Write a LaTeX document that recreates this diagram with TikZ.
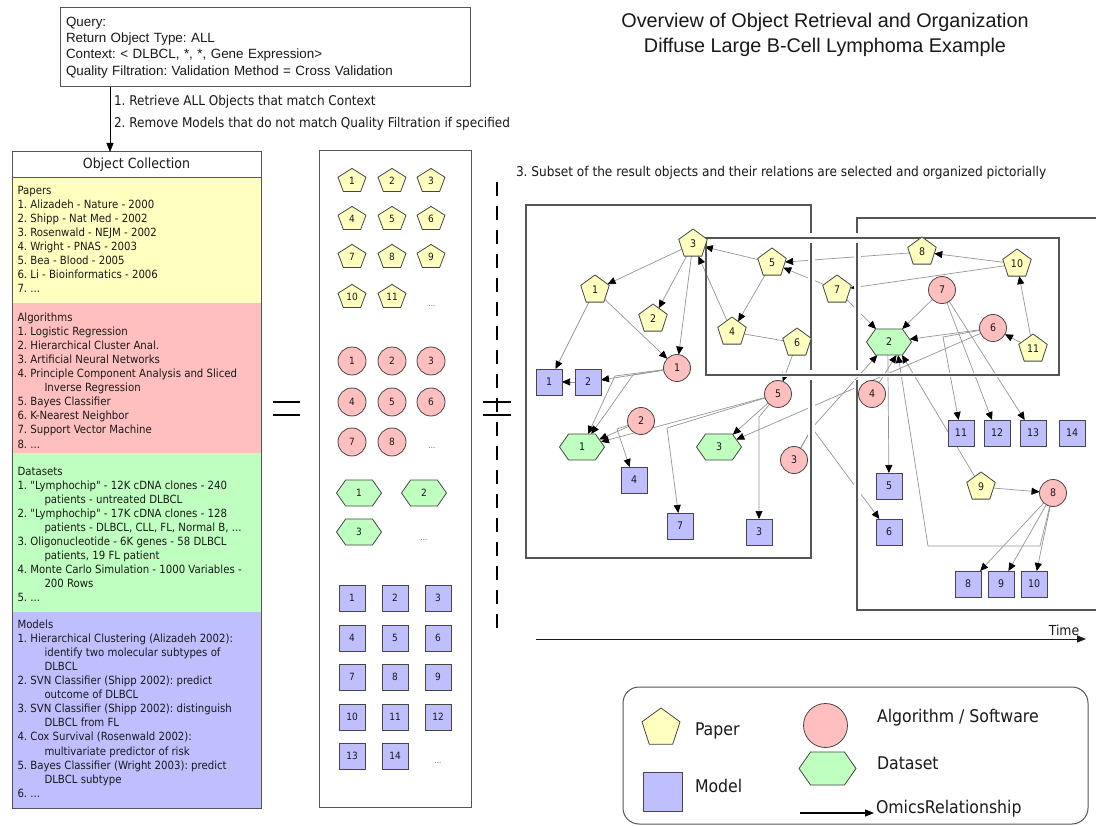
\documentclass[tikz,border=0pt]{standalone}
\usepackage{fontspec}
\setmainfont{Liberation Sans}
\newfontfamily\tah{DejaVu Sans Condensed}
\usetikzlibrary{shapes.geometric,shapes.symbols,arrows.meta}
\pgfdeclarelayer{bg}
\pgfdeclarelayer{edges}
\pgfdeclarelayer{frames}
\pgfsetlayers{bg,edges,frames,main}
\definecolor{paperY}{RGB}{255,255,191}
\definecolor{algR}{RGB}{255,191,191}
\definecolor{dataG}{RGB}{191,255,191}
\definecolor{modelB}{RGB}{191,191,255}
\definecolor{edgeC}{RGB}{150,150,150}
\definecolor{frameC}{RGB}{85,85,85}
\definecolor{shapeC}{RGB}{70,70,70}
\definecolor{inkC}{RGB}{25,25,25}
\frenchspacing
\begin{document}
\frenchspacing
\begin{tikzpicture}[x=1pt,y=-1pt,
  every node/.style={inner sep=0pt, outer sep=0pt, text=inkC},
  obj/.style={draw=shapeC, line width=0.8pt, font=\tah\fontsize{10.5}{12}\selectfont},
  paper/.style={obj, regular polygon, regular polygon sides=5, minimum size=30, fill=paperY},
  alg/.style={obj, circle, minimum size=27, fill=algR},
  data/.style={obj, signal, signal to=east and west, signal pointer angle=110, minimum width=45, minimum height=26, fill=dataG},
  model/.style={obj, rectangle, minimum size=26, fill=modelB},
  rel/.style={draw=edgeC, line width=0.7pt, -{Triangle[length=8pt,width=7pt,color=black]}},
  link/.style={draw=edgeC, line width=0.7pt},
  frame/.style={draw=frameC, line width=1.3pt},
  halo/.style={draw=white, line width=7pt},
  listtxt/.style={anchor=north west, align=left, font=\tah\fontsize{11.3}{14.05}\selectfont},
  dots/.style={font=\tah\fontsize{8}{9}\selectfont, text=black!60},
  legtxt/.style={anchor=west, font=\tah\fontsize{17.5}{19}\selectfont},
  blackarrow/.style={draw=black, line width=1pt, -{Triangle[length=9pt,width=7pt]}},
  mpent/.pic={
    \draw[draw=shapeC, line width=0.8pt, fill=paperY] (0,-11.6) -- (13.98,-2.75) -- (8.64,11.55) -- (-8.64,11.55) -- (-13.98,-2.75) -- cycle;
    \node[font=\tah\fontsize{10}{12}\selectfont] (-lbl) at (0,1) {#1};
  },
]
\begin{pgfonlayer}{bg}
  \fill[white] (0,0) rectangle (1096,826);
\end{pgfonlayer}
\useasboundingbox (0,0) rectangle (1096,826);

% ---------- heading ----------
\node[align=center, font=\fontsize{19.8}{25}\selectfont] (title) at (825,34.5)
  {Overview of Object Retrieval and Organization\\Diffuse Large B-Cell Lymphoma Example};

% ---------- query ----------
\node[draw=frameC, line width=1pt, anchor=north west, minimum height=79, text width=398,
      inner xsep=6pt, align=left, font=\fontsize{13.4}{16.3}\selectfont] (query) at (60,8)
  {Query:\\Return Object Type: ALL\\Context: < DLBCL, *, *, Gene Expression>\\Quality Filtration: Validation Method = Cross Validation};

\node[anchor=west, align=left, font=\tah\fontsize{13.4}{22}\selectfont] (steps) at (114,113)
  {1. Retrieve ALL Objects that match Context\\2. Remove Models that do not match Quality Filtration if specified};

% ---------- object collection ----------
\fill[paperY] (12,178) rectangle (261,303);
\fill[algR]   (12,303) rectangle (261,453);
\fill[dataG]  (12,453) rectangle (261,612);
\fill[modelB] (12,612) rectangle (261,808);
\node[draw=frameC, line width=1pt, minimum width=249, minimum height=26,
      font=\tah\fontsize{14}{16}\selectfont] (collHead) at (136.5,165) {Object Collection};
\draw[frameC, line width=1pt] (12,152) rectangle (261,808);

\coordinate (qx) at (110,0);
\draw[blackarrow, line width=0.9pt] (query.south -| qx) -- (collHead.north -| qx);

\node[listtxt] (papersTxt) at (17.5,186) {Papers\\1. Alizadeh - Nature - 2000\\2. Shipp - Nat Med - 2002\\3. Rosenwald - NEJM - 2002\\4. Wright - PNAS - 2003\\5. Bea - Blood - 2005\\6. Li - Bioinformatics - 2006\\7. ...};
\node[listtxt] (algTxt) at (17.5,313) {Algorithms\\1. Logistic Regression\\2. Hierarchical Cluster Anal.\\3. Artificial Neural Networks\\4. Principle Component Analysis and Sliced\\\hspace*{27pt}Inverse Regression\\5. Bayes Classifier\\6. K-Nearest Neighbor\\7. Support Vector Machine\\8. ...};
\node[listtxt] (dataTxt) at (17.5,467) {Datasets\\1. "Lymphochip" - 12K cDNA clones - 240\\\hspace*{27pt}patients - untreated DLBCL\\2. "Lymphochip" - 17K cDNA clones - 128\\\hspace*{27pt}patients - DLBCL, CLL, FL, Normal B, ...\\3. Oligonucleotide - 6K genes - 58 DLBCL\\\hspace*{27pt}patients, 19 FL patient\\4. Monte Carlo Simulation - 1000 Variables -\\\hspace*{27pt}200 Rows\\5. ...};
\node[listtxt] (modelTxt) at (17.5,620) {Models\\1. Hierarchical Clustering (Alizadeh 2002):\\\hspace*{27pt}identify two molecular subtypes of\\\hspace*{27pt}DLBCL\\2. SVN Classifier (Shipp 2002): predict\\\hspace*{27pt}outcome of DLBCL\\3. SVN Classifier (Shipp 2002): distinguish\\\hspace*{27pt}DLBCL from FL\\4. Cox Survival (Rosenwald 2002):\\\hspace*{27pt}multivariate predictor of risk\\5. Bayes Classifier (Wright 2003): predict\\\hspace*{27pt}DLBCL subtype\\6. ...};

% ---------- equals sign and the full result set ----------
\draw[black, line width=1.6pt] (273,402) -- (300,402) (273,415) -- (300,415);
\draw[frameC, line width=1pt] (319,151) rectangle (471,807);

\foreach \n/\x/\y in {1/352/180, 2/392/180, 3/431/180, 4/352/218, 5/392/218, 6/431/218,
                      7/352/256, 8/392/256, 9/431/256, 10/352/296, 11/392/296}
  \pic (mp\n) at (\x,\y) {mpent=\n};
\node[dots] (mpDots) at (432,306) {...};

\foreach \n/\x/\y in {1/352/361, 2/392/361, 3/431/361, 4/352/402, 5/392/402, 6/431/402, 7/352/442, 8/392/442}
  \node[alg, minimum size=28, font=\tah\fontsize{10}{12}\selectfont] (ma\n) at (\x,\y) {\n};
\node[dots] (maDots) at (432,448) {...};

\node[data, font=\tah\fontsize{10}{12}\selectfont] (md1) at (359,493) {1};
\node[data, font=\tah\fontsize{10}{12}\selectfont] (md2) at (424,493) {2};
\node[data, font=\tah\fontsize{10}{12}\selectfont] (md3) at (359,532) {3};
\node[dots] (mdDots) at (424,540) {...};

\foreach \n/\x/\y in {1/352/598, 2/395/598, 3/438/598, 4/352/638, 5/395/638, 6/438/638,
                      7/352/677, 8/395/677, 9/438/677, 10/352/717, 11/395/717, 12/438/717,
                      13/352/756, 14/395/756}
  \node[model, font=\tah\fontsize{10}{12}\selectfont] (mm\n) at (\x,\y) {\n};
\node[dots] (mmDots) at (438,763) {...};

% selection mark
\draw[black, line width=1.6pt] (483,402) -- (511,402) (483,415) -- (511,415);
\draw[black, line width=1.6pt, dash pattern=on 14pt off 10pt] (497,182) -- (497,638);

\node[anchor=west, font=\tah\fontsize{13.5}{15}\selectfont] (step3) at (516,173)
  {3. Subset of the result objects and their relations are selected and organized pictorially};

% ---------- selected objects ----------
\node[paper] (P1) at (595,290) {1};
\node[paper] (P2) at (653,319) {2};
\node[paper] (P3) at (693,244) {3};
\node[paper] (P4) at (732,332) {4};
\node[paper] (P5) at (772,263) {5};
\node[paper] (P6) at (797,343) {6};
\node[paper] (P7) at (837,290) {7};
\node[paper] (P8) at (922,252) {8};
\node[paper] (P9) at (981,487) {9};
\node[paper] (P10) at (1017,264) {10};
\node[paper] (P11) at (1033,349) {11};

\node[alg] (C1) at (677,368) {1};
\node[alg] (C2) at (641,421) {2};
\node[alg] (C3) at (794,460) {3};
\node[alg] (C4) at (872,394) {4};
\node[alg] (C5) at (778,394) {5};
\node[alg] (C6) at (993,328) {6};
\node[alg] (C7) at (942,290) {7};
\node[alg] (C8) at (1053,493) {8};

\node[data] (D1) at (582,447) {1};
\node[data] (D2) at (889,342) {2};
\node[data] (D3) at (719,447) {3};

\node[model] (M1) at (549,382) {1};
\node[model] (M2) at (588,382) {2};
\node[model] (M3) at (759,532) {3};
\node[model] (M4) at (634,480) {4};
\node[model] (M5) at (889,486) {5};
\node[model] (M6) at (889,532) {6};
\node[model] (M7) at (680,526) {7};
\node[model] (M8) at (968,584) {8};
\node[model] (M9) at (1001,584) {9};
\node[model] (M10) at (1034,584) {10};
\node[model] (M11) at (961,433) {11};
\node[model] (M12) at (997,433) {12};
\node[model] (M13) at (1033,433) {13};
\node[model] (M14) at (1072,433) {14};

% bend points of routed connectors
\coordinate (bA) at (615,376);
\coordinate (bB) at (633,375);
\coordinate (bC) at (617,429);
\coordinate (bD) at (667,428);
\coordinate (bE) at (759,417);
\coordinate (bF) at (812,428);
\coordinate (bG) at (943,337);
\coordinate (bH) at (1040,546);
\coordinate (bI) at (928,546);

\begin{pgfonlayer}{edges}
  \draw[rel] (P3) -- (P1);
  \draw[rel] (P3) -- (P2);
  \draw[rel] (P3) -- (C1);
  \draw[rel] (P5) -- (P3);
  \draw[rel] (P4) -- (P3);
  \draw[rel] (P5) -- (P4);
  \draw[link] (P4) -- (P6);
  \draw[rel] (P6) -- (C5);
  \draw[rel] (P1) -- (M1);
  \draw[rel] (P1) -- (C1);
  \draw[rel] (M2) -- (M1);
  \draw[rel] (C1) -- (M2);
  \draw[rel] (C1) -- (bA) -- (D1);
  \draw[rel] (C1) -- (bB) -- (D1);
  \draw[rel] (C2) -- (D1);
  \draw[rel] (C2) -- (bC) -- (M4);
  \draw[rel] (C5) -- (D1);
  \draw[rel] (C5) -- (bD) -- (M7);
  \draw[rel] (C5) -- (D3);
  \draw[rel] (C5) -- (bE) -- (M3);
  \draw[rel] (C6) -- (D3);
  \draw[rel] (C3) -- (bF) -- (D2);
  \draw[rel] (C3) -- (bF) -- (M6);
  \draw[rel] (C4) -- (D2.-60);
  \draw[rel] (D2.-95) -- (M5);
  \draw[rel] (P9) -- (D2.-45);
  \draw[rel] (C8) -- (bH) -- (bI) -- (D2.-55);
  \draw[rel] (P9) -- (C8);
  \draw[rel] (C8) -- (M8);
  \draw[rel] (C8) -- (M9);
  \draw[rel] (C8) -- (M10);
  \draw[rel] (P8) -- (P5);
  \draw[rel] (P10) -- (P8);
  \draw[rel] (P10) -- (P7);
  \draw[rel] (P7) -- (P5);
  \draw[rel] (P7) -- (D2);
  \draw[rel] (C7) -- (D2);
  \draw[rel] (C6) -- (D2);
  \draw[rel] (P11) -- (C6);
  \draw[rel] (P11) -- (P10);
  \draw[rel] (C6) -- (bG) -- (M11);
  \draw[rel] (C7) -- (M12);
  \draw[rel] (C7) -- (M13);
\end{pgfonlayer}

\begin{pgfonlayer}{frames}
  % white gaps where connectors pass the period borders
  \draw[halo] (811,205) -- (811,233) (811,243) -- (811,370) (811,380) -- (811,558);
  \draw[halo] (857,218) -- (857,233) (857,243) -- (857,370) (857,380) -- (857,610);
  \draw[halo, line width=4pt] (706,238) -- (1059,238) (706,375) -- (1059,375);
  % period borders
  \draw[frame] (811,233) -- (811,205) -- (526,205) -- (526,558) -- (811,558) -- (811,380);
  \draw[frame] (811,243) -- (811,370);
  \draw[frame] (706,238) rectangle (1059,375);
  \draw[frame] (1096,218) -- (857,218) -- (857,233);
  \draw[frame] (857,243) -- (857,370);
  \draw[frame] (857,380) -- (857,610) -- (1096,610);
\end{pgfonlayer}

% ---------- time axis ----------
\coordinate (t0) at (536,639);
\coordinate (t1) at (1086,639);
\draw[blackarrow, draw=inkC] (t0) -- (t1);
\node[font=\tah\fontsize{13.8}{15}\selectfont] (timeLbl) at (1064,630) {Time};

% ---------- legend ----------
\node[draw=frameC, line width=1pt, rounded corners=16pt, minimum width=465, minimum height=137] (legend) at (855.5,755.5) {};
\node[paper, minimum size=40] (lgPaper) at (661,728) {};
\node[legtxt] (lgPaperTxt) at (695,731) {Paper};
\node[model, minimum size=39] (lgModel) at (663,791.5) {};
\node[legtxt] (lgModelTxt) at (695,786) {Model};
\node[alg, minimum size=44] (lgAlg) at (825.5,725.5) {};
\node[legtxt] (lgAlgTxt) at (877,718) {Algorithm / Software};
\node[data, minimum width=57, minimum height=33] (lgData) at (827.5,768.5) {};
\node[legtxt] (lgDataTxt) at (877,763) {Dataset};
\coordinate (la0) at (800,813);
\coordinate (la1) at (874,813);
\draw[blackarrow, line width=1.1pt] (la0) -- (la1);
\node[legtxt] (lgRelTxt) at (876,809) {OmicsRelationship};
\end{tikzpicture}
\end{document}
